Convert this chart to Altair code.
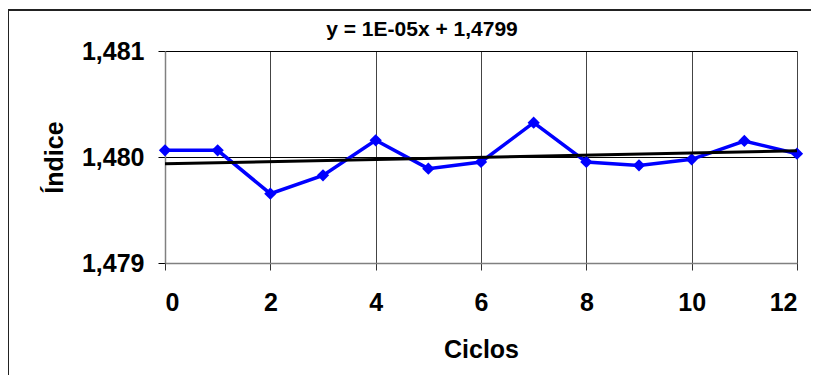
import altair as alt
import pandas as pd

ciclos = [0, 1, 2, 3, 4, 5, 6, 7, 8, 9, 10, 11, 12]
indice = [1.480063, 1.480063, 1.479654, 1.479827, 1.480158, 1.479890, 1.479953,
          1.480324, 1.479953, 1.479921, 1.479978, 1.480151, 1.480031]
y_ticks = [1.479, 1.480, 1.481]
x_ticks = [0, 2, 4, 6, 8, 10, 12]
trend_label = ["y = 1E-05x + 1,4799"]

df = pd.DataFrame({"Ciclos": ciclos, "Indice": indice})

FONT = "Liberation Sans"
W, H = 632, 212

x_enc = alt.X("Ciclos:Q", scale=alt.Scale(domain=[0, 12], nice=False),
              axis=alt.Axis(values=x_ticks, title="Ciclos", grid=True,
                            gridColor="#444444", gridWidth=1, gridOpacity=1,
                            domain=True, domainColor="#808080", domainWidth=1.5,
                            tickColor="#333333", tickSize=7,
                            labelFontSize=25, labelFont=FONT, labelFontWeight="bold",
                            labelPadding=20, labelColor="black",
                            titleFontSize=25, titleFont=FONT, titleFontWeight="bold",
                            titlePadding=22, titleColor="black"))
y_enc = alt.Y("Indice:Q", scale=alt.Scale(domain=[1.479, 1.481], nice=False, zero=False),
              axis=alt.Axis(values=y_ticks, title="Índice", grid=True,
                            gridColor="black", gridWidth=1, gridOpacity=1,
                            domain=True, domainColor="#808080", domainWidth=1.5,
                            tickColor="black", tickSize=7,
                            labelExpr="replace(format(datum.value, '.3f'), '.', ',')",
                            labelFontSize=25, labelFont=FONT, labelFontWeight="bold",
                            labelPadding=14, labelColor="black",
                            titleFontSize=25, titleFont=FONT, titleFontWeight="bold",
                            titlePadding=14, titleColor="black"))

base = alt.Chart(df)

line = base.mark_line(color="#0000FF", strokeWidth=3.5, point=alt.OverlayMarkDef(
    shape="diamond", size=150, color="#0000FF", filled=True, opacity=1)).encode(
    x=x_enc, y=y_enc)

trend = base.transform_regression("Ciclos", "Indice").mark_line(
    color="black", strokeWidth=3).encode(x="Ciclos:Q", y="Indice:Q")

frame = alt.Chart(pd.DataFrame({"a": [0]})).mark_rect(
    fill=None, stroke="#222222", strokeWidth=2).encode(
    x=alt.value(-157), x2=alt.value(680), y=alt.value(-41), y2=alt.value(360))

label = alt.Chart(pd.DataFrame({"t": trend_label})).mark_text(
    font=FONT, fontSize=21, fontWeight="bold", color="black",
    align="center", baseline="alphabetic").encode(
    text="t:N", x=alt.value(257), y=alt.value(-15))

chart = alt.layer(frame, line, trend, label).properties(
    width=W, height=H,
    autosize=alt.AutoSizeParams(type="none"),
    padding={"left": 157, "top": 43, "right": 14, "bottom": 112},
).configure_view(stroke=None).configure(background="white")

chart.save("out.html", embed_options={"renderer": "svg", "actions": False})
